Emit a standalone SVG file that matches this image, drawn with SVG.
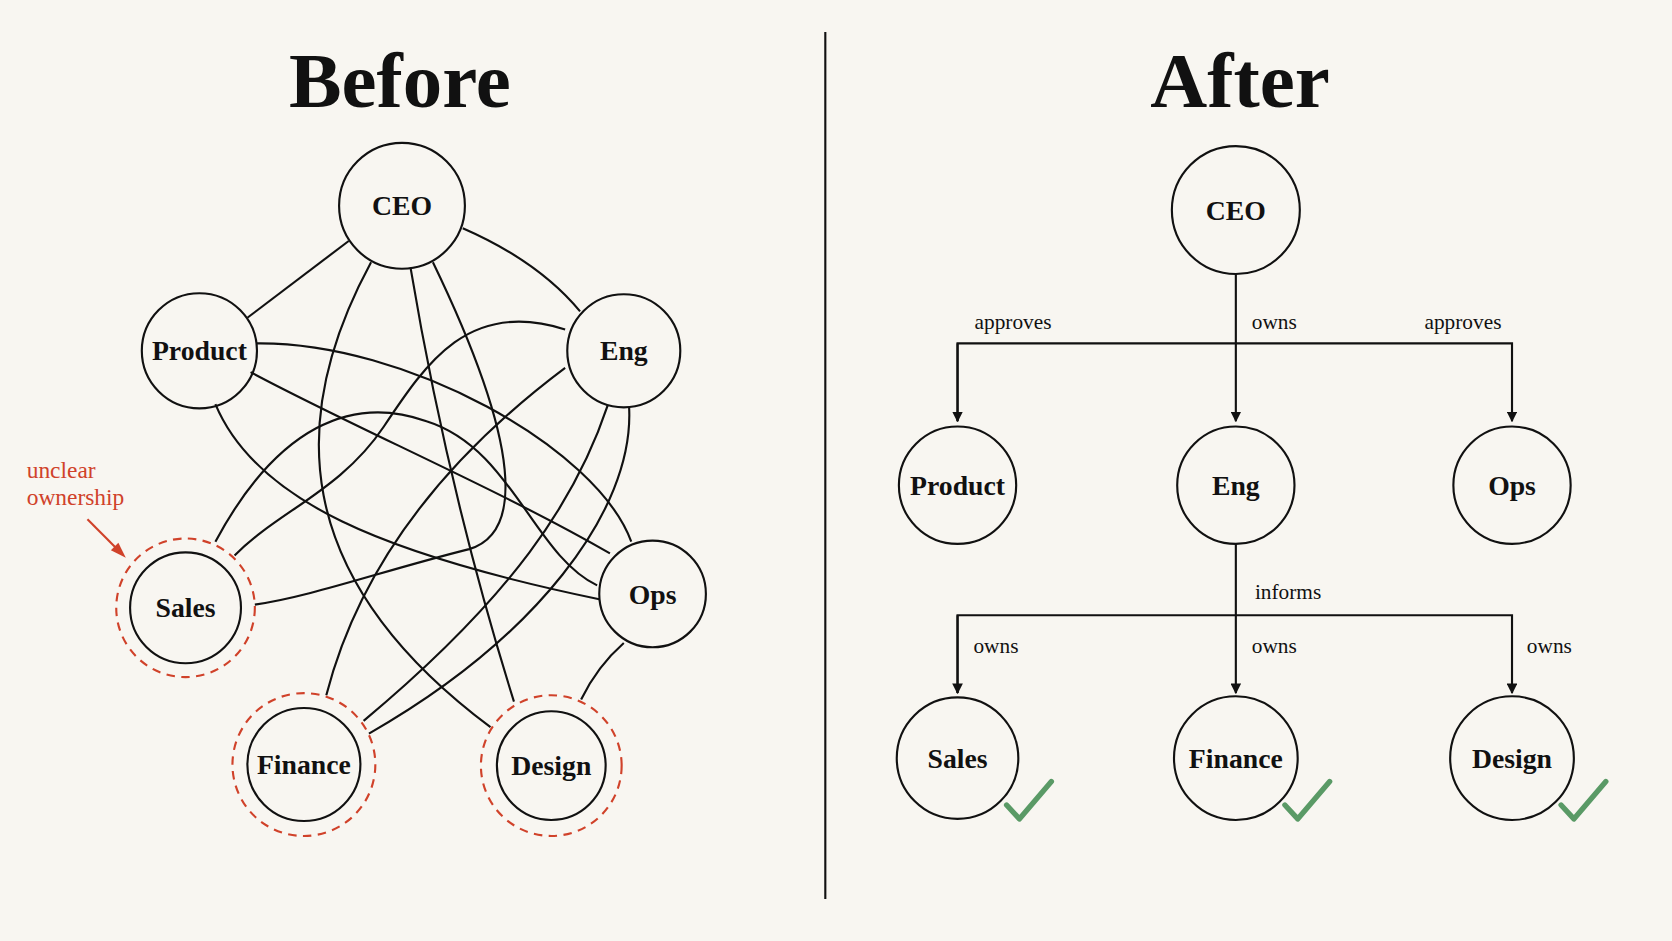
<svg xmlns="http://www.w3.org/2000/svg" width="1672" height="941" viewBox="0 0 1672 941">
<defs>
<style>
.n{fill:none;stroke:#111;stroke-width:2}
.d{fill:none;stroke:#d0422a;stroke-width:2;stroke-dasharray:8 6}
.e{fill:none;stroke:#111;stroke-width:2}
.t{font-family:"Liberation Serif",serif;font-weight:bold;font-size:26px;fill:#111;text-anchor:middle}
.h{font-family:"Liberation Serif",serif;font-weight:bold;font-size:74px;fill:#111;text-anchor:middle}
.l{font-family:"Liberation Serif",serif;font-size:20px;fill:#111;text-anchor:middle}
.ck{fill:none;stroke:#5a9a66;stroke-width:5;stroke-linecap:round;stroke-linejoin:round}
</style>
<marker id="a" markerWidth="10" markerHeight="10" refX="9" refY="5" orient="auto" markerUnits="userSpaceOnUse"><path d="M0,0 L10,5 L0,10 z" fill="#111"/></marker>
</defs>
<rect width="1672" height="941" fill="#f8f6f1"/>
<g transform="scale(1.0663)">
<text class="h" x="375" y="100">Before</text>
<text class="h" x="1163" y="100">After</text>
<line x1="774" y1="30" x2="774" y2="843" stroke="#111" stroke-width="2"/>
<g id="connectors">
<path class="e" d="M327,226 L232,298"/>
<path class="e" d="M434,214 Q505,245 544,292"/>
<path class="e" d="M348,246 C270,390 270,540 460,682"/>
<path class="e" d="M385,251 Q420,460 482,658"/>
<path class="e" d="M406,246 C490,420 490,500 440,515 C360,535 290,560 239,567"/>
<path class="e" d="M530,309 C440,280 400,340 360,400 C320,460 260,480 220,521"/>
<path class="e" d="M530,345 C430,420 340,520 306,652"/>
<path class="e" d="M570,380 C540,470 480,560 341,676"/>
<path class="e" d="M590,382 C595,480 500,600 346,688"/>
<path class="e" d="M202,508 C260,400 330,370 400,395 C480,420 500,520 560,549"/>
<path class="e" d="M202,379 C240,470 360,520 562,562"/>
<path class="e" d="M235,349 C330,400 470,460 572,519"/>
<path class="e" d="M240,322 C380,320 560,420 592,508"/>
<path class="e" d="M585,603 Q560,625 545,656"/>
<path class="e" d="M1159,257 V395" marker-end="url(#a)"/>
<path class="e" d="M898,395 V322 H1418 V395" marker-end="url(#a)"/>
<path class="e" d="M898,322 V395" marker-end="url(#a)"/>
<path class="e" d="M1159,510 V650" marker-end="url(#a)"/>
<path class="e" d="M898,650 V577 H1418 V650" marker-end="url(#a)"/>
<path class="e" d="M898,577 V650" marker-end="url(#a)"/>
<path d="M82,487 L114,519" stroke="#d0422a" stroke-width="2" fill="none"/>
<path d="M118,523 L104,516 L111,509 z" fill="#d0422a"/>
</g>
<text x="25" y="448" font-family="Liberation Serif,serif" font-size="22" fill="#d0422a">unclear</text>
<text x="25" y="474" font-family="Liberation Serif,serif" font-size="22" fill="#d0422a">ownership</text>
<text class="l" x="950" y="309">approves</text>
<text class="l" x="1195" y="309">owns</text>
<text class="l" x="1372" y="309">approves</text>
<text class="l" x="1208" y="562">informs</text>
<text class="l" x="934" y="612">owns</text>
<text class="l" x="1195" y="612">owns</text>
<text class="l" x="1453" y="612">owns</text>
<g id="b-ceo"><circle class="n" cx="377" cy="193" r="59"/><text class="t" x="377" y="202">CEO</text></g>
<g id="b-product"><circle class="n" cx="187" cy="329" r="54"/><text class="t" x="187" y="338">Product</text></g>
<g id="b-eng"><circle class="n" cx="585" cy="329" r="53"/><text class="t" x="585" y="338">Eng</text></g>
<g id="b-sales"><circle class="d" cx="174" cy="570" r="65"/><circle class="n" cx="174" cy="570" r="52"/><text class="t" x="174" y="579">Sales</text></g>
<g id="b-ops"><circle class="n" cx="612" cy="557" r="50"/><text class="t" x="612" y="566">Ops</text></g>
<g id="b-finance"><circle class="d" cx="285" cy="717" r="67"/><circle class="n" cx="285" cy="717" r="53"/><text class="t" x="285" y="726">Finance</text></g>
<g id="b-design"><circle class="d" cx="517" cy="718" r="66"/><circle class="n" cx="517" cy="718" r="51"/><text class="t" x="517" y="727">Design</text></g>
<g id="a-ceo"><circle class="n" cx="1159" cy="197" r="60"/><text class="t" x="1159" y="206">CEO</text></g>
<g id="a-product"><circle class="n" cx="898" cy="455" r="55"/><text class="t" x="898" y="464">Product</text></g>
<g id="a-eng"><circle class="n" cx="1159" cy="455" r="55"/><text class="t" x="1159" y="464">Eng</text></g>
<g id="a-ops"><circle class="n" cx="1418" cy="455" r="55"/><text class="t" x="1418" y="464">Ops</text></g>
<g id="a-sales"><circle class="n" cx="898" cy="711" r="57"/><text class="t" x="898" y="720">Sales</text><path class="ck" d="M944,755 L956,768 L986,733"/></g>
<g id="a-finance"><circle class="n" cx="1159" cy="711" r="58"/><text class="t" x="1159" y="720">Finance</text><path class="ck" d="M1205,755 L1217,768 L1247,733"/></g>
<g id="a-design"><circle class="n" cx="1418" cy="711" r="58"/><text class="t" x="1418" y="720">Design</text><path class="ck" d="M1464,755 L1476,768 L1506,733"/></g>
</g>
</svg>
